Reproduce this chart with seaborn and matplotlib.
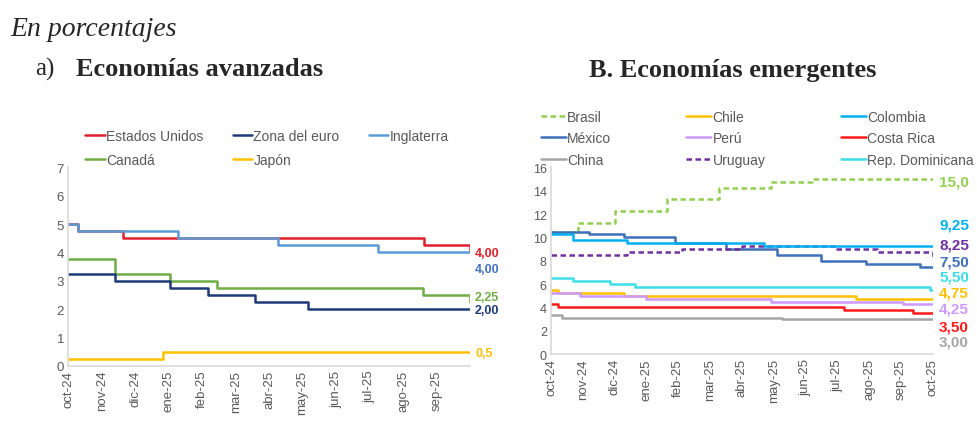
import numpy as np
import pandas as pd
import matplotlib
matplotlib.use("Agg")
import matplotlib.pyplot as plt
import seaborn as sns

# x is months since oct-24 (0 = oct-24, 12 = oct-25); step changes
meses = ["oct-24", "nov-24", "dic-24", "ene-25", "feb-25", "mar-25", "abr-25",
         "may-25", "jun-25", "jul-25", "ago-25", "sep-25", "oct-25"]

# --- a) Economias avanzadas ---
eeuu_x = [0, 0.3, 1.63, 10.63, 12]
eeuu_y = [5.0, 4.75, 4.5, 4.25, 4.0]
ingl_x = [0, 0.3, 3.28, 6.27, 9.25, 12]
ingl_y = [5.0, 4.75, 4.5, 4.25, 4.0, 4.0]
canada_x = [0, 1.39, 3.04, 4.43, 10.6, 12]
canada_y = [3.75, 3.25, 3.0, 2.75, 2.5, 2.25]
euro_x = [0, 1.39, 3.04, 4.18, 5.58, 7.17, 12]
euro_y = [3.25, 3.0, 2.75, 2.5, 2.25, 2.0, 2.0]
japon_x = [0, 2.84, 12]
japon_y = [0.25, 0.5, 0.5]

# --- B. Economias emergentes ---
brasil_x = [0, 0.86, 2.02, 3.64, 5.27, 6.9, 8.21, 12]
brasil_y = [10.5, 11.25, 12.25, 13.25, 14.25, 14.75, 15.0, 15.0]
colombia_x = [0, 0.7, 2.38, 6.7, 12]
colombia_y = [10.25, 9.75, 9.5, 9.25, 9.25]
mexico_x = [0, 1.18, 2.28, 3.9, 5.5, 7.1, 8.5, 9.9, 11.6, 12]
mexico_y = [10.5, 10.25, 10.0, 9.5, 9.0, 8.5, 8.0, 7.75, 7.5, 7.5]
uruguay_x = [0, 2.38, 4.12, 6.0, 8.9, 10.26, 12]
uruguay_y = [8.5, 8.75, 9.0, 9.25, 9.0, 8.75, 8.25]
rd_x = [0, 0.7, 1.86, 2.65, 11.9, 12]
rd_y = [6.5, 6.25, 6.0, 5.75, 5.5, 5.5]
chile_x = [0, 0.23, 2.28, 9.6, 12]
chile_y = [5.5, 5.25, 5.0, 4.75, 4.75]
peru_x = [0, 0.91, 3.0, 6.9, 11.05, 12]
peru_y = [5.25, 5.0, 4.75, 4.5, 4.25, 4.25]
cr_x = [0, 0.23, 9.2, 11.37, 12]
cr_y = [4.25, 4.0, 3.75, 3.5, 3.5]
china_x = [0, 0.34, 7.27, 12]
china_y = [3.35, 3.1, 3.0, 3.0]

sns.set_style("white")
plt.rcParams["font.family"] = ["Liberation Sans", "DejaVu Sans"]

fig = plt.figure(figsize=(9.77, 4.27), dpi=100)
ax1 = fig.add_axes([0.0699, 0.1412, 0.4112, 0.4646])
ax2 = fig.add_axes([0.564, 0.1686, 0.3907, 0.437])

gris = "#595959"


def step_line(ax, xs, ys, color, label, dashed=False, lw=1.8):
    df = pd.DataFrame({"x": xs, "y": ys})
    sns.lineplot(data=df, x="x", y="y", ax=ax, color=color, label=label,
                 drawstyle="steps-post", linewidth=lw,
                 linestyle=(0, (2.2, 1.4)) if dashed else "-", estimator=None)


# left panel, drawing order so Inglaterra sits over EE.UU.
left = [
    ("Estados Unidos", eeuu_x, eeuu_y, "#E0202A", False),
    ("Canadá", canada_x, canada_y, "#70AD47", False),
    ("Zona del euro", euro_x, euro_y, "#1F3A78", False),
    ("Japón", japon_x, japon_y, "#FFC000", False),
    ("Inglaterra", ingl_x, ingl_y, "#5B9BD5", False),
]
for name, xs, ys, c, d in left:
    step_line(ax1, xs, ys, c, name, d)

right = [
    ("Brasil", brasil_x, brasil_y, "#92D050", True),
    ("México", mexico_x, mexico_y, "#3E6FB8", False),
    ("China", china_x, china_y, "#A6A6A6", False),
    ("Chile", chile_x, chile_y, "#FFC000", False),
    ("Perú", peru_x, peru_y, "#CC99FF", False),
    ("Uruguay", uruguay_x, uruguay_y, "#7030A0", True),
    ("Colombia", colombia_x, colombia_y, "#00B0F0", False),
    ("Costa Rica", cr_x, cr_y, "#FF1A1A", False),
    ("Rep. Dominicana", rd_x, rd_y, "#3FDDE8", False),
]
for name, xs, ys, c, d in right:
    step_line(ax2, xs, ys, c, name, d)

# axes styling
for ax, ymax, step, nt in [(ax1, 7, 1, 12), (ax2, 16, 2, 13)]:
    ax.set_xlim(0, 12)
    ax.set_ylim(0, ymax)
    ax.set_yticks(np.arange(0, ymax + 1, step))
    ax.set_xticks(range(nt))
    ax.set_xticklabels(meses[:nt], rotation=90)
    ax.tick_params(axis="both", colors=gris, labelsize=9.5, length=0, pad=3)
    ax.set_xlabel("")
    ax.set_ylabel("")
    for s in ["top", "right"]:
        ax.spines[s].set_visible(False)
    for s in ["left", "bottom"]:
        ax.spines[s].set_color("#D9D9D9")
        ax.spines[s].set_linewidth(1.2)
ax2.tick_params(axis="y", labelsize=9)

# legends
h1, l1 = ax1.get_legend_handles_labels()
ax1.legend(h1, l1, ncol=3, loc="lower left", bbox_to_anchor=(0.025, 0.965),
           frameon=False, fontsize=10, handlelength=1.4, handletextpad=0.1,
           columnspacing=2.1, labelspacing=0.75, borderaxespad=0.1,
           labelcolor=gris)
h2, l2 = ax2.get_legend_handles_labels()
ax2.legend(h2, l2, ncol=3, loc="lower left", bbox_to_anchor=(-0.045, 0.965),
           frameon=False, fontsize=10, handlelength=1.8, handletextpad=0.1,
           columnspacing=5.4, labelspacing=0.55, borderaxespad=0.1,
           labelcolor=gris)

# end value labels
left_lab = [("4,00", 3.98, "#E0202A"), ("4,00", 3.41, "#4472C4"),
            ("2,25", 2.42, "#70AD47"), ("2,00", 1.98, "#1F3A78"),
            ("0,5", 0.45, "#FFC000")]
for t, y, c in left_lab:
    ax1.text(12.15, y, t, color=c, fontsize=9, fontweight="bold",
             va="center", ha="left")
right_lab = [("15,0", 14.8, "#92D050"), ("9,25", 11.14, "#00B0F0"),
             ("8,25", 9.43, "#7030A0"), ("7,50", 7.97, "#3E6FB8"),
             ("5,50", 6.68, "#3FDDE8"), ("4,75", 5.31, "#FFC000"),
             ("4,25", 3.86, "#CC99FF"), ("3,50", 2.4, "#FF1A1A"),
             ("3,00", 1.03, "#A6A6A6")]
for t, y, c in right_lab:
    ax2.text(12.2, y, t, color=c, fontsize=11, fontweight="bold",
             va="center", ha="left")

# titles
serif = ["Liberation Serif", "DejaVu Serif"]
fig.text(0.011, 1 - 29 / 427, "En porcentajes", family=serif, style="italic",
         fontsize=20, va="center", ha="left")
fig.text(0.036, 1 - 69 / 427, "a)", family=serif, fontsize=18,
         va="center", ha="left")
fig.text(0.078, 1 - 69 / 427, "Economías avanzadas", family=serif,
         fontweight="bold", fontsize=19, va="center", ha="left")
fig.text(0.603, 1 - 71 / 427, "B. Economías emergentes", family=serif,
         fontweight="bold", fontsize=19, va="center", ha="left")

fig.savefig("out.png", dpi=100)
